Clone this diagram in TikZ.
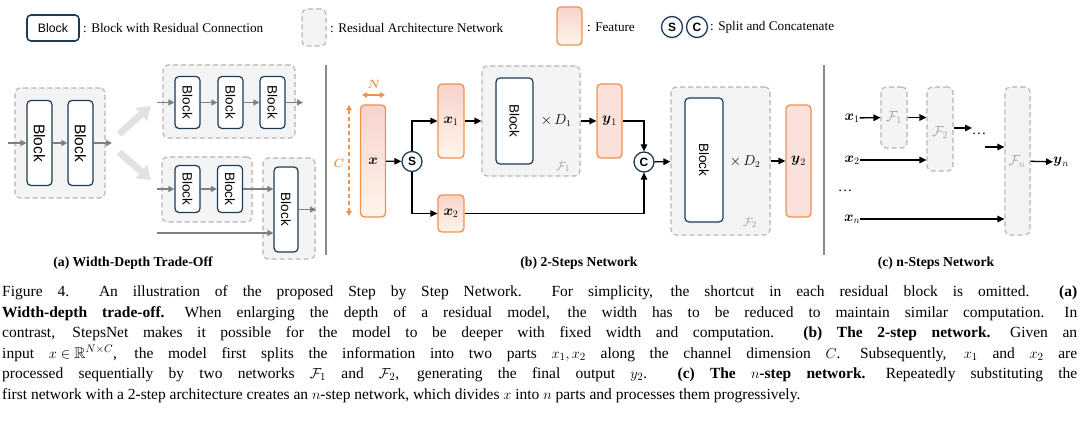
\documentclass[tikz,border=0pt]{standalone}
\usepackage{fontspec}
\usepackage{amsmath,amssymb}
\setmainfont{Liberation Serif}
\setsansfont{Liberation Sans}
\usetikzlibrary{arrows.meta}
\definecolor{navy}{HTML}{1D3A56}
\definecolor{netline}{HTML}{B4B4B4}
\definecolor{netfill}{HTML}{F4F4F4}
\definecolor{featline}{HTML}{F0914F}
\definecolor{feattop}{HTML}{F7D3CD}
\definecolor{featbot}{HTML}{FEF5EA}
\definecolor{outfill}{HTML}{FAE1DC}
\definecolor{garrow}{HTML}{7F7F7F}
\definecolor{fatgray}{HTML}{E2E2E2}
\definecolor{sepgray}{HTML}{8A8A8A}
\definecolor{flabel}{HTML}{A0A0A0}
\begin{document}
\begin{tikzpicture}[x=1pt,y=-1pt,
    net/.style={draw=netline,fill=netfill,dash pattern=on 5pt off 3pt,line width=1.1pt,rounded corners=5pt,inner sep=0pt},
    blk/.style={draw=navy,fill=white,line width=1.2pt,rounded corners=4pt,inner sep=0pt,font=\sffamily\fontsize{13.5}{14}\selectfont},
    feat/.style={draw=featline,top color=feattop,bottom color=featbot,line width=1.3pt,rounded corners=4pt,inner sep=0pt,font=\fontsize{14.5}{16}\selectfont},
    outfeat/.style={feat,top color=outfill,bottom color=outfill},
    op/.style={circle,draw=navy,fill=white,line width=1.3pt,minimum size=20pt,inner sep=0pt,font=\sffamily\bfseries\fontsize{12}{12}\selectfont},
    garr/.style={draw=garrow,line width=1.2pt,-{Triangle[length=6pt,width=6pt]}},
    barr/.style={draw=black,line width=1.3pt,-{Triangle[length=7pt,width=6.5pt]}},
    fat/.style={draw=fatgray,line width=7pt,-{Triangle[length=13pt,width=17pt]}},
    dimarr/.style={draw=featline,line width=1.3pt,{Triangle[length=5pt,width=5.5pt]}-{Triangle[length=5pt,width=5.5pt]}},
    dimlab/.style={text=featline,inner sep=0pt,font=\fontsize{13}{14}\selectfont},
    mlab/.style={inner sep=0pt,font=\fontsize{14.5}{16}\selectfont},
    flab/.style={text=flabel,inner sep=0pt,font=\fontsize{13}{14}\selectfont},
    sep/.style={draw=sepgray,line width=1.2pt},
    txt/.style={inner sep=0pt,anchor=west,font=\fontsize{13.2}{15}\selectfont},
    lab/.style={inner sep=0pt,font=\bfseries\fontsize{13.7}{15}\selectfont}]
  \useasboundingbox (0,0) rectangle (1080,427);
  % legend
  \node[blk,line width=1.6pt,minimum width=52,minimum height=26,font=\sffamily\fontsize{12.3}{13}\selectfont] (lblk) at (53,28) {Block};
  \node[txt] (lblkt) at (83,28) {: Block with Residual Connection};
  \node[net,minimum width=24,minimum height=37] (lnet) at (314,27.5) {};
  \node[txt] (lnett) at (330,28) {: Residual Architecture Network};
  \node[feat,minimum width=25,minimum height=38] (lfeat) at (569.5,26) {};
  \node[txt] (lfeatt) at (587,27) {: Feature};
  \node[op,minimum size=21pt] (lS) at (672,27) {S};
  \node[op,minimum size=21pt] (lC) at (697,27) {C};
  \node[txt] (lopt) at (710,27) {: Split and Concatenate};
  % (a)
  \node[net,minimum width=90,minimum height=110] (A0) at (60,143) {};
  \node[blk,minimum width=25,minimum height=85,font=\sffamily\fontsize{15.5}{16}\selectfont] (a1) at (39.5,143) {\rotatebox{-90}{Block}};
  \node[blk,minimum width=25,minimum height=85,font=\sffamily\fontsize{15.5}{16}\selectfont] (a2) at (80.5,143) {\rotatebox{-90}{Block}};
  \coordinate (ain) at (8,143);
  \coordinate (aout) at (112,143);
  \draw[garr] (ain) -- (a1);
  \draw[garr] (a1) -- (a2);
  \draw[garr] (a2) -- (aout);
  \coordinate (fu0) at (119,134);
  \coordinate (fu1) at (151,106);
  \coordinate (fd0) at (119,152);
  \coordinate (fd1) at (151,180);
  \draw[fat] (fu0) -- (fu1);
  \draw[fat] (fd0) -- (fd1);
  \node[net,minimum width=132,minimum height=73] (A1) at (229,101.5) {};
  \node[blk,minimum width=25,minimum height=52] (b1) at (187.5,102.5) {\rotatebox{-90}{Block}};
  \node[blk,minimum width=25,minimum height=52] (b2) at (230.5,102.5) {\rotatebox{-90}{Block}};
  \node[blk,minimum width=25,minimum height=52] (b3) at (272.5,102.5) {\rotatebox{-90}{Block}};
  \coordinate (bin) at (157,102.5);
  \coordinate (bout) at (303,102.5);
  \draw[garr] (bin) -- (b1);
  \draw[garr] (b1) -- (b2);
  \draw[garr] (b2) -- (b3);
  \draw[garr] (b3) -- (bout);
  \node[net,minimum width=90,minimum height=65] (A2) at (207,189.5) {};
  \node[net,minimum width=52,minimum height=101] (A3) at (289,208.5) {};
  \node[blk,minimum width=25,minimum height=47] (c1) at (187.5,189) {\rotatebox{-90}{Block}};
  \node[blk,minimum width=25,minimum height=47] (c2) at (230,189) {\rotatebox{-90}{Block}};
  \node[blk,minimum width=24,minimum height=85] (c3) at (286,209.5) {\rotatebox{-90}{Block}};
  \coordinate (cin) at (157,189);
  \coordinate (cin2) at (157,233);
  \coordinate (cout) at (316,209.5);
  \draw[garr] (cin) -- (c1);
  \draw[garr] (c1) -- (c2);
  \draw[garr] (c2) -- (c2 -| c3.west);
  \draw[garr] (cin2) -- (cin2 -| c3.west);
  \draw[garr] (c3) -- (cout);
  \node[lab] (capa) at (133,263) {(a) Width-Depth Trade-Off};
  \coordinate (s1a) at (326,65);
  \coordinate (s1b) at (326,255);
  \draw[sep] (s1a) -- (s1b);
  % (b)
  \node[feat,minimum width=25,minimum height=112] (x) at (373,161) {$\boldsymbol{x}$};
  \coordinate (Nl) at (362,95);
  \coordinate (Nr) at (385,95);
  \draw[dimarr] (Nl) -- (Nr);
  \node[dimlab] (N) at (374,84) {$\boldsymbol{N}$};
  \coordinate (Ct) at (349,105);
  \coordinate (Cb) at (349,216);
  \draw[dimarr,dash pattern=on 4pt off 3pt] (Ct) -- (Cb);
  \node[dimlab] (C) at (339,163) {$\boldsymbol{C}$};
  \node[op] (S) at (412,161.5) {S};
  \node[feat,minimum width=26,minimum height=74] (x1) at (451,121) {$\boldsymbol{x}_1$};
  \node[feat,minimum width=26,minimum height=37] (x2) at (451,213.5) {$\boldsymbol{x}_2$};
  \draw[barr] (x) -- (S);
  \draw[barr] (S) |- (x1);
  \draw[barr] (S) |- (x2);
  \node[net,minimum width=98,minimum height=110] (F1) at (531,121) {};
  \node[blk,minimum width=37,minimum height=86] (blk1) at (514.5,121) {\rotatebox{-90}{Block}};
  \node[mlab,font=\fontsize{13.5}{14}\selectfont] (D1) at (556,121) {$\times\, D_1$};
  \node[flab] (F1l) at (563,167) {$\mathcal{F}_1$};
  \draw[barr] (x1) -- (F1);
  \node[outfeat,minimum width=25,minimum height=74] (y1) at (609.5,121) {$\boldsymbol{y}_1$};
  \draw[barr] (F1) -- (y1);
  \node[op] (Cc) at (644,162) {C};
  \draw[barr] (y1) -| (Cc);
  \draw[barr] (x2) -| (Cc);
  \node[net,minimum width=99,minimum height=148] (F2) at (720.5,161) {};
  \node[blk,minimum width=38,minimum height=124] (blk2) at (704,160) {\rotatebox{-90}{Block}};
  \node[mlab,font=\fontsize{13.5}{14}\selectfont] (D2) at (745,162) {$\times\, D_2$};
  \node[flab] (F2l) at (750,223) {$\mathcal{F}_2$};
  \draw[barr] (Cc) -- (F2);
  \node[outfeat,minimum width=25,minimum height=112] (y2) at (798.5,161) {$\boldsymbol{y}_2$};
  \draw[barr] (F2) -- (y2);
  \node[lab] (capb) at (579,263) {(b) 2-Steps Network};
  \coordinate (s2a) at (824,65);
  \coordinate (s2b) at (824,255);
  \draw[sep] (s2a) -- (s2b);
  % (c)
  \node[net,minimum width=26,minimum height=61] (G1) at (894,117.5) {};
  \node[net,minimum width=26,minimum height=84] (G2) at (940,129) {};
  \node[net,minimum width=25,minimum height=148] (Gn) at (1017.5,161) {};
  \node[flab,font=\fontsize{14}{15}\selectfont] (G1l) at (894,118) {$\mathcal{F}_1$};
  \node[flab,font=\fontsize{14}{15}\selectfont] (G2l) at (940,133) {$\mathcal{F}_2$};
  \node[flab,font=\fontsize{14}{15}\selectfont] (Gnl) at (1017,162) {$\mathcal{F}_n$};
  \node[mlab] (cx1) at (852,118) {$\boldsymbol{x}_1$};
  \node[mlab] (cx2) at (852,160) {$\boldsymbol{x}_2$};
  \node[mlab] (cdots) at (845,191) {\dots};
  \node[mlab] (cxn) at (852,219) {$\boldsymbol{x}_n$};
  \node[mlab] (gdots) at (979,134) {\dots};
  \node[mlab] (cyn) at (1061,162) {$\boldsymbol{y}_n$};
  \coordinate (g2o) at (972,128);
  \coordinate (gni) at (985,147);
  \draw[barr] (cx1) -- (G1);
  \draw[barr] (G1) -- (G1 -| G2.west);
  \draw[barr] (cx2) -- (cx2 -| G2.west);
  \draw[barr] (G2.east |- g2o) -- (g2o);
  \draw[barr] (gni) -- (gni -| Gn.west);
  \draw[barr] (cxn) -- (cxn -| Gn.west);
  \draw[barr] (Gn) -- (cyn);
  \node[lab] (capc) at (936,263) {(c) n-Steps Network};
  % caption
  \node[anchor=north west,inner sep=0pt,text width=1075pt,font=\fontsize{15.5}{20.5}\selectfont] (cap) at (2,285.5) {%
    \spaceskip=.25em plus .6em minus .05em \xspaceskip=.33em plus .8em minus .05em \thickmuskip=5mu \medmuskip=4mu
    \makebox[1075pt][s]{Figure 4.\ \ An illustration of the proposed Step by Step Network.\ \ For simplicity, the shortcut in each residual block is omitted.\ \ \textbf{(a)}}\\
    \makebox[1075pt][s]{\textbf{Width-depth trade-off.} When enlarging the depth of a residual model, the width has to be reduced to maintain similar computation. In}\\
    \makebox[1075pt][s]{contrast, StepsNet makes it possible for the model to be deeper with fixed width and computation.\ \ \textbf{(b) The 2-step network.} Given an}\\
    \makebox[1075pt][s]{input $x \in \mathbb{R}^{N\times C}$, the model first splits the information into two parts $x_1, x_2$ along the channel dimension $C$. Subsequently, $x_1$ and $x_2$ are}\\
    \makebox[1075pt][s]{processed sequentially by two networks $\mathcal{F}_1$ and $\mathcal{F}_2$, generating the final output $y_2$.\ \ \textbf{(c) The $n$-step network.} Repeatedly substituting the}\\
    first network with a 2-step architecture creates an $n$-step network, which divides $x$ into $n$ parts and processes them progressively.};
\end{tikzpicture}
\end{document}
